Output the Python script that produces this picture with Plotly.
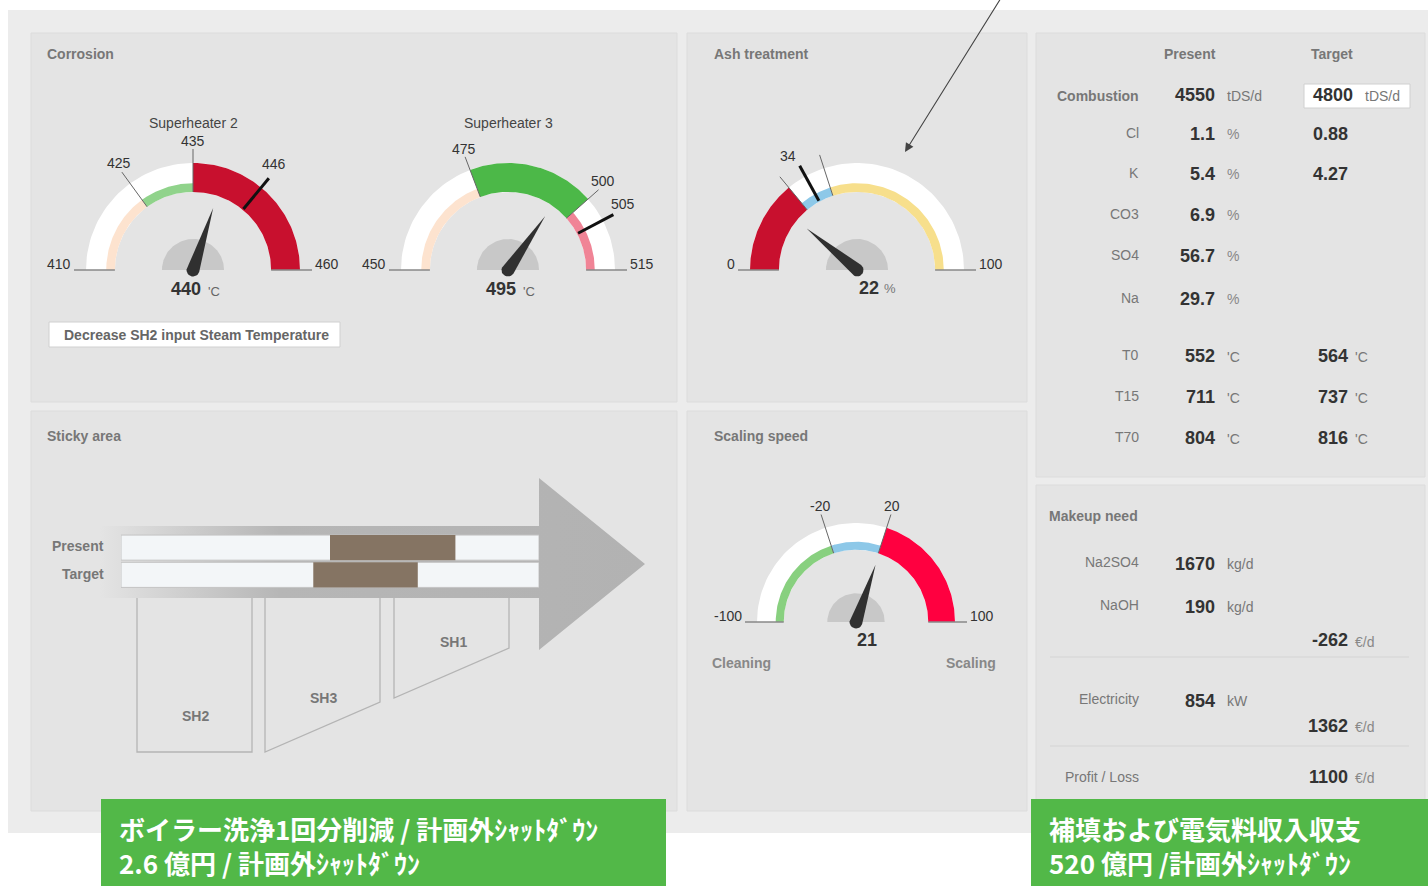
import numpy as np
import plotly.graph_objects as go

# ---- gauge data ----
sh2_range = [410, 460]
sh2_limits = [425, 435]
sh2_alarm = 446
sh2_value = 440

sh3_range = [450, 515]
sh3_limits = [475, 500]
sh3_alarm = 505
sh3_value = 495

ash_range = [0, 100]
ash_limits = [28, 40]
ash_target = 34
ash_value = 22

scaling_range = [-100, 100]
scaling_limits = [-20, 20]
scaling_value = 21

# ---- sticky area ----
sticky_rows = ["Target", "Present"]
sticky_start = [46, 50]
sticky_end = [71, 80]

# ---- combustion table ----
combustion_present = 4550
combustion_target = 4800
components = ["Cl", "K", "CO3", "SO4", "Na"]
comp_present = [1.1, 5.4, 6.9, 56.7, 29.7]
comp_target = [0.88, 4.27, None, None, None]
temp_points = ["T0", "T15", "T70"]
temp_present = [552, 711, 804]
temp_target = [564, 737, 816]

# ---- makeup need ----
makeup_chems = ["Na2SO4", "NaOH"]
makeup_kgd = [1670, 190]
makeup_cost = -262
electricity_kw = 854
electricity_eur = 1362
profit_loss = 1100

banner_left = ["ボイラー洗浄1回分削減 / 計画外ｼｬｯﾄﾀﾞｳﾝ", "2.6 億円 / 計画外ｼｬｯﾄﾀﾞｳﾝ"]
banner_right = ["補填および電気料収入収支", "520 億円 /計画外ｼｬｯﾄﾀﾞｳﾝ"]

# ---- styles ----
W, H = 1428, 886
FONT = "Liberation Sans, Arial, sans-serif"
JP = "Noto Sans CJK JP"
sh2_styles = [("#fde3cf", False), ("#90d38b", False), ("#c8102e", True)]
sh3_styles = [("#fde3cf", False), ("#4cb848", True), ("#f08496", False)]
ash_styles = [("#c8102e", True), ("#8dc8e8", False), ("#f7df8c", False)]
scaling_styles = [("#88d07f", False), ("#8dc8e8", False), ("#ff0040", True)]

fig = go.Figure()


def text(x, y, s, size=14, color="#777", anchor="left", bold=False, family=FONT):
    # small nudge to cancel the annotation padding
    x = x - 2 if anchor == "left" else x + 2 if anchor == "right" else x
    fig.add_annotation(x=x, y=y, text=f"<b>{s}</b>" if bold else str(s), showarrow=False,
                       xanchor=anchor, yanchor="middle", align="left",
                       font=dict(family=family, size=size, color=color))


def poly(xs, ys, color):
    fig.add_trace(go.Scatter(x=xs, y=ys, mode="lines", fill="toself", fillcolor=color,
                             line=dict(width=0, color=color), hoverinfo="skip", showlegend=False))


def seg(x0, y0, x1, y1, color="#777", width=1):
    fig.add_trace(go.Scatter(x=[x0, x1], y=[y0, y1], mode="lines",
                             line=dict(color=color, width=width), hoverinfo="skip", showlegend=False))


def band(cx, cy, r0, r1, a0, a1, color):
    t = np.linspace(a0, a1, 80)
    xs = np.concatenate([cx + r1 * np.cos(t), cx + r0 * np.cos(t[::-1])])
    ys = np.concatenate([cy - r1 * np.sin(t), cy - r0 * np.sin(t[::-1])])
    poly(xs, ys, color)


def gauge(cx, cy, r, rng, cuts, styles, value, labeled, alarm=None):
    lo, hi = rng
    ang = lambda v: np.pi * (1 - (v - lo) / (hi - lo))
    rin = r * 0.73
    thin = rin + 0.3 * (r - rin)
    band(cx, cy, rin, r, 0, np.pi, "white")
    edges = [lo] + cuts + [hi]
    for a, b, (color, full) in zip(edges[:-1], edges[1:], styles):
        band(cx, cy, rin, r if full else thin, ang(b), ang(a), color)
    for s in (-1, 1):
        seg(cx + s * rin, cy, cx + s * (r + 12), cy, "#888", 1.5)
    text(cx - r - 15, cy - 6, lo, color="#333", anchor="right")
    text(cx + r + 15, cy - 6, hi, color="#333", anchor="left")
    for v in cuts:
        a = ang(v)
        seg(cx + rin * np.cos(a), cy - rin * np.sin(a),
            cx + (r + 14) * np.cos(a), cy - (r + 14) * np.sin(a), "#666", 1)
        if v in labeled:
            a2 = a + 0.05 * np.cos(a)
            text(cx + (r + 24) * np.cos(a2), cy - (r + 22) * np.sin(a2), v, color="#333", anchor="center")
    if alarm is not None:
        a = ang(alarm)
        seg(cx + (rin + 1) * np.cos(a), cy - (rin + 1) * np.sin(a),
            cx + (r + 12) * np.cos(a), cy - (r + 12) * np.sin(a), "#111", 3)
        text(cx + (r + 26) * np.cos(a + 0.04), cy - (r + 26) * np.sin(a + 0.04), alarm,
             color="#333", anchor="center")
    band(cx, cy, 0, 0.29 * r, 0, np.pi, "#c8c8c8")
    # needle
    a = ang(value)
    L, w = 0.61 * r, 6.5
    t = np.linspace(a + np.pi / 2, a + 1.5 * np.pi, 14)
    xs = [cx + L * np.cos(a)] + list(cx + w * np.cos(t)) + [cx + L * np.cos(a)]
    ys = [cy - L * np.sin(a)] + list(cy - w * np.sin(t)) + [cy - L * np.sin(a)]
    poly(xs, ys, "#303030")


# ---- background and panels ----
fig.add_shape(type="rect", x0=8, y0=10, x1=1428, y1=833, fillcolor="#ececec",
              line=dict(width=0), layer="below")
panels = [(31, 33, 677, 402), (687, 33, 1027, 402), (1036, 33, 1425, 477),
          (31, 411, 677, 811), (687, 411, 1027, 811), (1036, 485, 1425, 811)]
for x0, y0, x1, y1 in panels:
    fig.add_shape(type="rect", x0=x0, y0=y0, x1=x1, y1=y1, fillcolor="#e4e4e4",
                  line=dict(color="#dcdcdc", width=1), layer="below")

# ---- corrosion ----
text(47, 54, "Corrosion", bold=True)
text(193, 123, "Superheater 2", color="#444", anchor="center")
text(508, 123, "Superheater 3", color="#444", anchor="center")
gauge(193, 270, 107, sh2_range, sh2_limits, sh2_styles, sh2_value, sh2_limits, sh2_alarm)
gauge(508, 270, 107, sh3_range, sh3_limits, sh3_styles, sh3_value, sh3_limits, sh3_alarm)
text(201, 289, sh2_value, size=18, color="#333", anchor="right", bold=True)
text(208, 291, "'C", size=13, color="#666")
text(516, 289, sh3_value, size=18, color="#333", anchor="right", bold=True)
text(523, 291, "'C", size=13, color="#666")
fig.add_shape(type="rect", x0=49, y0=322, x1=340, y1=347, fillcolor="white",
              line=dict(color="#d0d0d0", width=1), layer="below")
text(196, 335, "Decrease SH2 input Steam Temperature", color="#666", anchor="center", bold=True)

# ---- ash treatment ----
text(714, 54, "Ash treatment", bold=True)
gauge(857, 270, 107, ash_range, ash_limits, ash_styles, ash_value, [], ash_target)
text(879, 288, ash_value, size=18, color="#333", anchor="right", bold=True)
text(884, 288, "%", size=13, color="#777")
fig.add_annotation(x=905, y=152, ax=1001, ay=-2, xref="x", yref="y", axref="x", ayref="y",
                   text="", showarrow=True, arrowhead=2, arrowsize=1.6, arrowwidth=1.1,
                   arrowcolor="#444")

# ---- scaling speed ----
text(714, 436, "Scaling speed", bold=True)
gauge(856, 622, 99, scaling_range, scaling_limits, scaling_styles, scaling_value, scaling_limits)
text(867, 640, scaling_value, size=18, color="#333", anchor="center", bold=True)
text(741, 663, "Cleaning", color="#888", anchor="center", bold=True)
text(971, 663, "Scaling", color="#888", anchor="center", bold=True)

# ---- sticky area ----
text(47, 436, "Sticky area", bold=True)
fig.add_trace(go.Scatter(
    x=[100, 539, 539, 645, 539, 539, 100, 100], y=[526, 526, 478, 564, 650, 598, 598, 526],
    mode="lines", fill="toself", line=dict(width=0), hoverinfo="skip", showlegend=False,
    fillgradient=dict(type="horizontal",
                      colorscale=[[0, "rgba(180,180,180,0)"], [0.33, "#b6b6b6"], [1, "#b2b2b2"]])))
outlines = [([137, 137, 252, 252], [598, 752, 752, 598]),
            ([265, 265, 380, 380], [598, 752, 702, 598]),
            ([394, 394, 509, 509], [598, 698, 648, 598])]
for xs, ys in outlines:
    fig.add_trace(go.Scatter(x=xs, y=ys, mode="lines", line=dict(color="#b4b4b4", width=1.3),
                             hoverinfo="skip", showlegend=False))
text(195, 716, "SH2", color="#777", anchor="center", bold=True)
text(323, 698, "SH3", color="#777", anchor="center", bold=True)
text(453, 642, "SH1", color="#777", anchor="center", bold=True)
fig.add_trace(go.Bar(y=sticky_rows, x=[100, 100], base=0, orientation="h", width=0.92,
                     marker=dict(color="#f3f6f8", line=dict(color="#c4c4c4", width=1)),
                     xaxis="x2", yaxis="y2", hoverinfo="skip", showlegend=False))
fig.add_trace(go.Bar(y=sticky_rows, x=[e - s for s, e in zip(sticky_start, sticky_end)],
                     base=sticky_start, orientation="h", width=0.92,
                     marker=dict(color="#857463", line=dict(width=0)),
                     xaxis="x2", yaxis="y2", hoverinfo="skip", showlegend=False))
text(104, 546, "Present", anchor="right", bold=True)
text(104, 574, "Target", anchor="right", bold=True)

# ---- combustion table ----
text(1190, 54, "Present", anchor="center", bold=True)
text(1332, 54, "Target", anchor="center", bold=True)
fig.add_shape(type="rect", x0=1304, y0=84, x1=1410, y1=108, fillcolor="white",
              line=dict(color="#d0d0d0", width=1), layer="below")
text(1139, 96, "Combustion", anchor="right", bold=True)
text(1215, 95, combustion_present, size=18, color="#333", anchor="right", bold=True)
text(1227, 96, "tDS/d", color="#777")
text(1313, 95, combustion_target, size=18, color="#333", bold=True)
text(1365, 96, "tDS/d", color="#777")
comp_y = [134, 174, 215, 256, 299]
for name, pv, tv, y in zip(components, comp_present, comp_target, comp_y):
    text(1139, y - 1, name, anchor="right")
    text(1215, y, pv, size=18, color="#333", anchor="right", bold=True)
    text(1227, y, "%", color="#888")
    if tv is not None:
        text(1313, y, tv, size=18, color="#333", bold=True)
temp_y = [356, 397, 438]
for name, pv, tv, y in zip(temp_points, temp_present, temp_target, temp_y):
    text(1139, y - 1, name, anchor="right")
    text(1215, y, pv, size=18, color="#333", anchor="right", bold=True)
    text(1227, y + 1, "'C", color="#777")
    text(1348, y, tv, size=18, color="#333", anchor="right", bold=True)
    text(1355, y + 1, "'C", color="#777")

# ---- makeup need ----
text(1049, 516, "Makeup need", bold=True)
for name, v, y in zip(makeup_chems, makeup_kgd, [563, 606]):
    text(1139, y - 1, name, anchor="right")
    text(1215, y + 1, v, size=18, color="#333", anchor="right", bold=True)
    text(1227, y + 1, "kg/d", color="#777")
text(1348, 640, makeup_cost, size=18, color="#333", anchor="right", bold=True)
text(1355, 642, "€/d", color="#888")
text(1139, 699, "Electricity", anchor="right")
text(1215, 701, electricity_kw, size=18, color="#333", anchor="right", bold=True)
text(1227, 701, "kW", color="#777")
text(1348, 726, electricity_eur, size=18, color="#333", anchor="right", bold=True)
text(1355, 727, "€/d", color="#888")
text(1139, 777, "Profit / Loss", anchor="right")
text(1348, 777, profit_loss, size=18, color="#333", anchor="right", bold=True)
text(1355, 778, "€/d", color="#888")
for y in (657, 746):
    fig.add_shape(type="line", x0=1050, x1=1409, y0=y, y1=y, line=dict(color="#d4d4d4", width=1),
                  layer="below")

# ---- green banners ----
for x0, x1, lines in [(101, 666, banner_left), (1031, 1428, banner_right)]:
    fig.add_shape(type="rect", x0=x0, y0=799, x1=x1, y1=886, fillcolor="#52b848",
                  line=dict(width=0), layer="above")
    text(x0 + 18, 845, "<br>".join(lines), size=26, color="white", bold=True, family=JP)

fig.update_layout(
    width=W, height=H, margin=dict(l=0, r=0, t=0, b=0), autosize=False,
    paper_bgcolor="white", plot_bgcolor="rgba(0,0,0,0)", barmode="overlay", showlegend=False,
    xaxis=dict(range=[0, W], visible=False, fixedrange=True),
    yaxis=dict(range=[H, 0], visible=False, fixedrange=True),
    xaxis2=dict(domain=[121 / W, 539 / W], range=[0, 100], visible=False, anchor="y2",
                fixedrange=True),
    yaxis2=dict(domain=[1 - 588.5 / H, 1 - 534 / H], visible=False, anchor="x2",
                categoryorder="array", categoryarray=sticky_rows, fixedrange=True),
)

fig.write_html("out.html", config={"displayModeBar": False},
               post_script="document.body.style.margin='0';")
